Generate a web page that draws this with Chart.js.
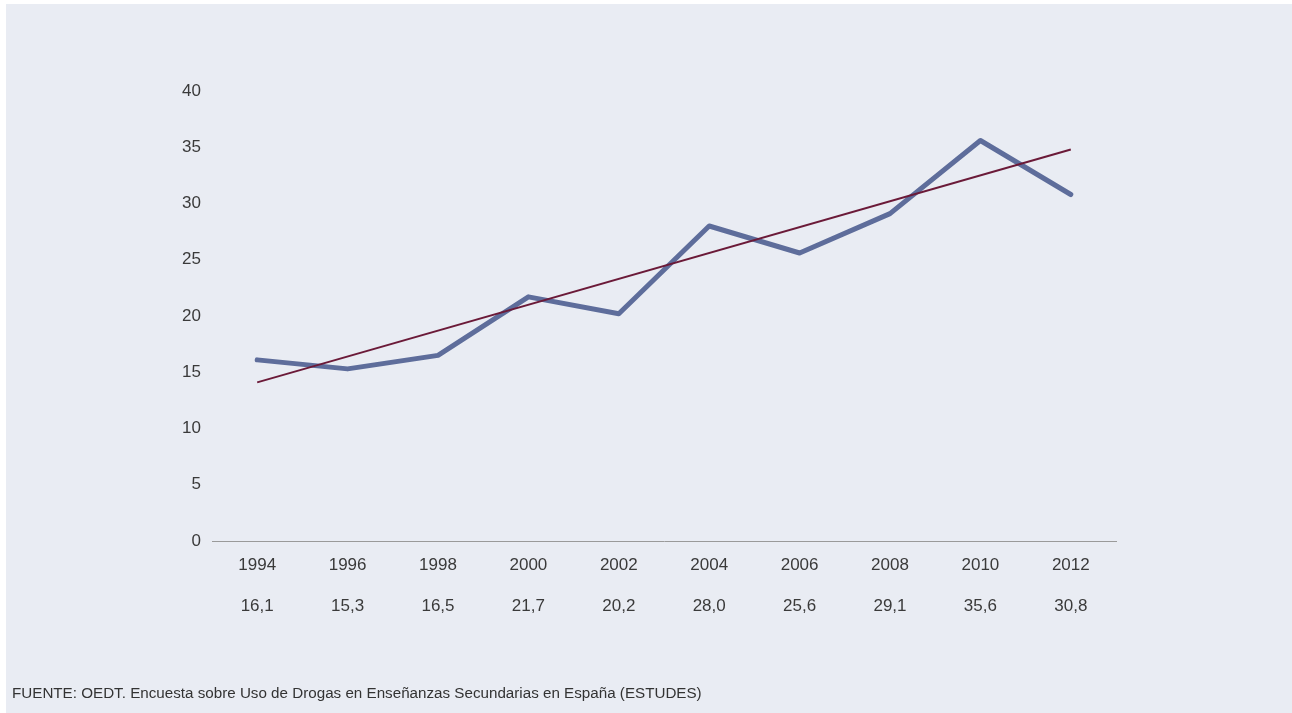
<!DOCTYPE html>
<html>
<head>
<meta charset="utf-8">
<script src="https://cdn.jsdelivr.net/npm/chart.js@4/dist/chart.umd.min.js"></script>
<style>
    html, body { margin: 0; padding: 0; background: #ffffff; }
    #panel {
        position: absolute; left: 6px; top: 4px;
        width: 1286px; height: 709px;
        background: #e9ecf3;
    }
    #chart-wrap { position: absolute; left: 0; top: 0; width: 1286px; height: 709px; }
    #source {
        position: absolute; left: 6px; top: 680px;
        font-family: "Liberation Sans", Arial, sans-serif;
        font-size: 15.2px; color: #333333;
    }
</style>
</head>
<body>
<div id="panel">
    <div id="chart-wrap"><canvas id="consumo-chart"></canvas></div>
    <div id="source">FUENTE: OEDT. Encuesta sobre Uso de Drogas en Enseñanzas Secundarias en España (ESTUDES)</div>
</div>
<script>
var years = ["1994", "1996", "1998", "2000", "2002", "2004", "2006", "2008", "2010", "2012"];
var values = [16.1, 15.3, 16.5, 21.7, 20.2, 28.0, 25.6, 29.1, 35.6, 30.8];
var valueLabels = ["16,1", "15,3", "16,5", "21,7", "20,2", "28,0", "25,6", "29,1", "35,6", "30,8"];
// tendencia: solo extremos
var trend = [14.1, null, null, null, null, null, null, null, null, 34.8];

var $canvas = document.getElementById("consumo-chart");
var tickFont = { family: "'Liberation Sans', Arial, sans-serif", size: 17 };

var consumoChart = new Chart($canvas, {
    type: "line",
    data: {
        labels: years.map(function (y, i) { return [y, valueLabels[i]]; }),
        datasets: [
            {
                label: "Tendencia",
                data: trend,
                spanGaps: true,
                borderColor: "#6b1a38",
                borderWidth: 2,
                pointRadius: 0,
                fill: false,
            },
            {
                label: "Prevalencia",
                data: values,
                borderColor: "#5e6d9b",
                borderWidth: 5,
                borderCapStyle: "round",
                borderJoinStyle: "round",
                pointRadius: 0,
                tension: 0,
                fill: false,
            },
        ],
    },
    options: {
        responsive: true,
        maintainAspectRatio: false,
        animation: false,
        layout: { padding: { top: 87, right: 176, bottom: 0, left: 0 } },
        plugins: {
            legend: { display: false },
            tooltip: { enabled: false },
        },
        scales: {
            x: {
                offset: true,
                grid: { display: false, drawTicks: false },
                border: { display: true, color: "#9a9a9a", width: 1 },
                ticks: {
                    color: "#3a3a3a",
                    font: Object.assign({ lineHeight: 2.41 }, tickFont),
                    padding: 4,
                    maxRotation: 0,
                    autoSkip: false,
                },
                afterFit: function (scale) { scale.height = 172; },
            },
            y: {
                min: 0,
                max: 40,
                grid: { display: false, drawTicks: false },
                border: { display: false },
                ticks: {
                    stepSize: 5,
                    color: "#3a3a3a",
                    font: tickFont,
                    padding: 11,
                },
                afterFit: function (scale) { scale.width = 206; },
            },
        },
    },
});
</script>
</body>
</html>
